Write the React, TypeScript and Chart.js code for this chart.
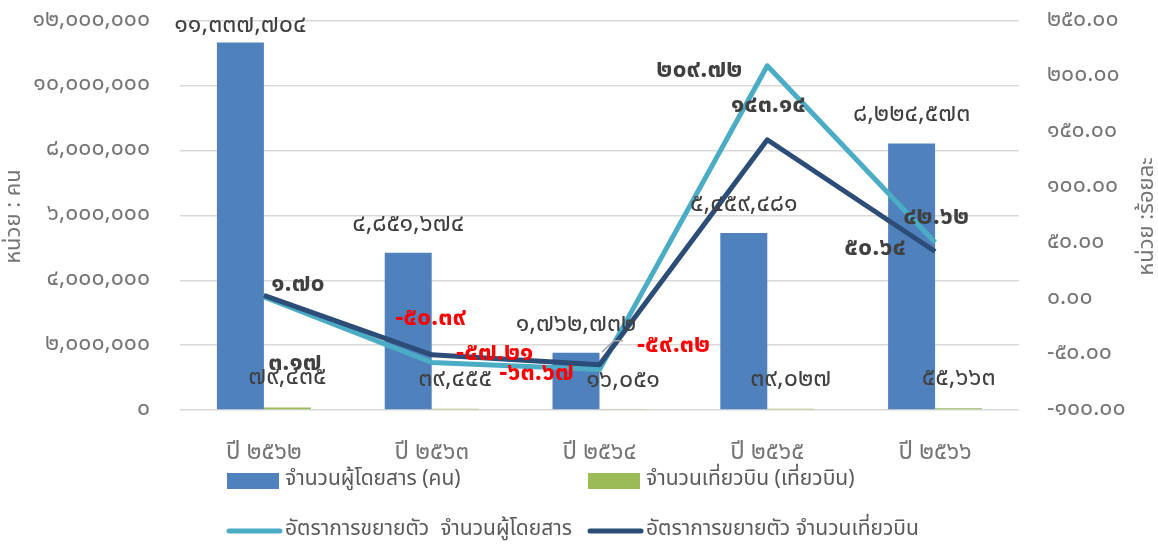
import React, { useEffect, useRef } from 'react';
import { Chart, registerables } from 'chart.js';

Chart.register(...registerables);

const categories = ['ปี ๒๕๖๒', 'ปี ๒๕๖๓', 'ปี ๒๕๖๔', 'ปี ๒๕๖๕', 'ปี ๒๕๖๖'];
const passengers = [11337704, 4851674, 1762732, 5459481, 8224573];
const flights = [79435, 39455, 16051, 39027, 55663];
const passengerGrowth = [1.7, -57.21, -63.67, 209.72, 50.64];
const flightGrowth = [3.17, -50.39, -59.32, 143.14, 42.62];

const seriesNames = [
  'จำนวนผู้โดยสาร (คน)',
  'จำนวนเที่ยวบิน (เที่ยวบิน)',
  'อัตราการขยายตัว  จำนวนผู้โดยสาร',
  'อัตราการขยายตัว จำนวนเที่ยวบิน',
];
const leftTitle = 'หน่วย : คน';
const rightTitle = 'หน่วย :ร้อยละ';

// label offsets (layout only)
const passGrowthOffsets = [[34, -11], [63, -7], [-63, 5], [-68, 6], [-60, 7]];
const flightGrowthOffsets = [[31, 70], [-1, -35], [74, -18], [1, -33], [1, -33]];

const COLORS = {
  pass: '#4f81bd',
  flight: '#9bbb59',
  passLine: '#4bacc6',
  flightLine: '#2c4d77',
  grid: '#d9d9d9',
  tick: '#757575',
  label: '#404040',
  neg: '#ff0000',
};

const FONT = '"Noto Sans Thai", "Noto Sans", "DejaVu Sans", sans-serif';
const LEGEND_FONT = '"Noto Sans Thai", "Noto Sans", "DejaVu Sans", sans-serif';

const thaiDigits = '๐๑๒๓๔๕๖๗๘๙';
const toThai = (s: string) => s.replace(/[0-9]/g, (d) => thaiDigits[Number(d)]);
const fmtInt = (v: number) => toThai(Math.round(v).toLocaleString('en-US'));
const fmt2 = (v: number) => toThai(v.toFixed(2));

const overlayPlugin = {
  id: 'overlay',
  afterDatasetsDraw(chart: any) {
    const { ctx, chartArea } = chart;
    const metaPass = chart.getDatasetMeta(0);
    const metaFlight = chart.getDatasetMeta(1);
    ctx.save();
    ctx.textAlign = 'center';
    ctx.textBaseline = 'middle';

    // bar labels
    ctx.font = `25px ${FONT}`;
    ctx.fillStyle = COLORS.label;
    metaPass.data.forEach((bar: any, i: number) => {
      const y = Math.max(bar.y - 27, chartArea.top + 6);
      ctx.fillText(fmtInt(passengers[i]), bar.x, y);
    });
    metaFlight.data.forEach((bar: any, i: number) => {
      ctx.fillText(fmtInt(flights[i]), bar.x, bar.y - 28);
    });

    // leader line for third passenger label
    const b3 = metaPass.data[2];
    if (b3) {
      ctx.strokeStyle = '#a6a6a6';
      ctx.lineWidth = 1.5;
      ctx.beginPath();
      ctx.moveTo(b3.x + 26, b3.y - 1);
      ctx.lineTo(b3.x + 38, b3.y - 12);
      ctx.lineTo(b3.x + 47, b3.y - 12);
      ctx.stroke();
    }
    ctx.restore();
  },
  afterDraw(chart: any) {
    const { ctx, chartArea } = chart;
    const metaPG = chart.getDatasetMeta(2);
    const metaFG = chart.getDatasetMeta(3);
    ctx.save();
    ctx.textAlign = 'center';
    ctx.textBaseline = 'middle';
    ctx.font = `bold 25px ${FONT}`;
    const drawGrowth = (meta: any, vals: number[], offs: number[][]) => {
      meta.data.forEach((pt: any, i: number) => {
        const v = vals[i];
        ctx.fillStyle = v < 0 ? COLORS.neg : COLORS.label;
        ctx.fillText(fmt2(v), pt.x + offs[i][0], pt.y + offs[i][1]);
      });
    };
    drawGrowth(metaPG, passengerGrowth, passGrowthOffsets);
    drawGrowth(metaFG, flightGrowth, flightGrowthOffsets);

    // axis titles
    ctx.fillStyle = COLORS.tick;
    ctx.font = `22px ${FONT}`;
    const midY = (chartArea.top + chartArea.bottom) / 2;
    ctx.save();
    ctx.translate(16, midY + 1);
    ctx.rotate(-Math.PI / 2);
    ctx.fillText(leftTitle, 0, 0);
    ctx.restore();
    ctx.save();
    ctx.translate(chart.width - 9, midY + 1);
    ctx.rotate(-Math.PI / 2);
    ctx.fillText(rightTitle, 0, 0);
    ctx.restore();

    // legend
    ctx.textAlign = 'left';
    ctx.font = `21px ${LEGEND_FONT}`;
    const cols = [227, 588];
    const rows = [481, 531];
    const items = [
      { type: 'box', color: COLORS.pass },
      { type: 'box', color: COLORS.flight },
      { type: 'line', color: COLORS.passLine },
      { type: 'line', color: COLORS.flightLine },
    ];
    items.forEach((it, i) => {
      const x = cols[i % 2];
      const y = rows[Math.floor(i / 2)];
      if (it.type === 'box') {
        ctx.fillStyle = it.color;
        ctx.fillRect(x, y - 8, 52, 16);
      } else {
        ctx.strokeStyle = it.color;
        ctx.lineWidth = 5;
        ctx.lineCap = 'round';
        ctx.beginPath();
        ctx.moveTo(x + 2, y);
        ctx.lineTo(x + 53, y);
        ctx.stroke();
      }
      ctx.fillStyle = '#595959';
      ctx.fillText(seriesNames[i], x + 58, y);
    });
    ctx.restore();
  },
};

export default function App() {
  const ref = useRef<HTMLCanvasElement | null>(null);
  useEffect(() => {
    if (!ref.current) return;
    const chart = new Chart(ref.current, {
      data: {
        labels: categories,
        datasets: [
          {
            type: 'bar',
            label: seriesNames[0],
            data: passengers,
            backgroundColor: COLORS.pass,
            yAxisID: 'y',
            order: 3,
            categoryPercentage: 0.56,
            barPercentage: 1,
          },
          {
            type: 'bar',
            label: seriesNames[1],
            data: flights,
            backgroundColor: COLORS.flight,
            yAxisID: 'y',
            order: 4,
            categoryPercentage: 0.56,
            barPercentage: 1,
          },
          {
            type: 'line',
            label: seriesNames[2],
            data: passengerGrowth,
            borderColor: COLORS.passLine,
            backgroundColor: COLORS.passLine,
            borderWidth: 5,
            pointRadius: 0,
            tension: 0,
            borderJoinStyle: 'round',
            yAxisID: 'y1',
            order: 2,
          },
          {
            type: 'line',
            label: seriesNames[3],
            data: flightGrowth,
            borderColor: COLORS.flightLine,
            backgroundColor: COLORS.flightLine,
            borderWidth: 5,
            pointRadius: 0,
            tension: 0,
            borderJoinStyle: 'round',
            yAxisID: 'y1',
            order: 1,
          },
        ] as any,
      },
      options: {
        animation: false,
        responsive: true,
        maintainAspectRatio: false,
        layout: { padding: { top: 21, bottom: 0, left: 0, right: 0 } },
        plugins: {
          legend: { display: false },
          tooltip: { enabled: false },
          title: { display: false },
        },
        scales: {
          x: {
            offset: true,
            grid: { display: false, drawTicks: false },
            border: { display: false },
            ticks: {
              color: COLORS.tick,
              font: { family: FONT, size: 24 },
              padding: 30,
              maxRotation: 0,
            },
            afterFit: (s: any) => {
              s.height = 545 - 410;
            },
          },
          y: {
            position: 'left',
            min: 0,
            max: 12000000,
            grid: { color: COLORS.grid, lineWidth: 1.5, drawTicks: false },
            border: { display: false },
            ticks: {
              stepSize: 2000000,
              color: COLORS.tick,
              font: { family: FONT, size: 23 },
              padding: 30,
              callback: (v: any) => fmtInt(Number(v)),
            },
            afterFit: (s: any) => {
              s.width = 180;
              s.paddingTop = 0;
              s.paddingBottom = 0;
            },
          },
          y1: {
            position: 'right',
            min: -100,
            max: 250,
            grid: { display: false, drawTicks: false },
            border: { display: false },
            ticks: {
              stepSize: 50,
              color: COLORS.tick,
              font: { family: FONT, size: 23 },
              padding: 28,
              callback: (v: any) => fmt2(Number(v)),
            },
            afterFit: (s: any) => {
              s.width = 1158 - 1019;
              s.paddingTop = 0;
              s.paddingBottom = 0;
            },
          },
        },
      } as any,
      plugins: [overlayPlugin],
    });
    return () => chart.destroy();
  }, []);
  return (
    <div style={{ position: 'fixed', left: 0, top: 0, width: 1158, height: 545, background: '#fff' }}>
      <canvas ref={ref} />
    </div>
  );
}
